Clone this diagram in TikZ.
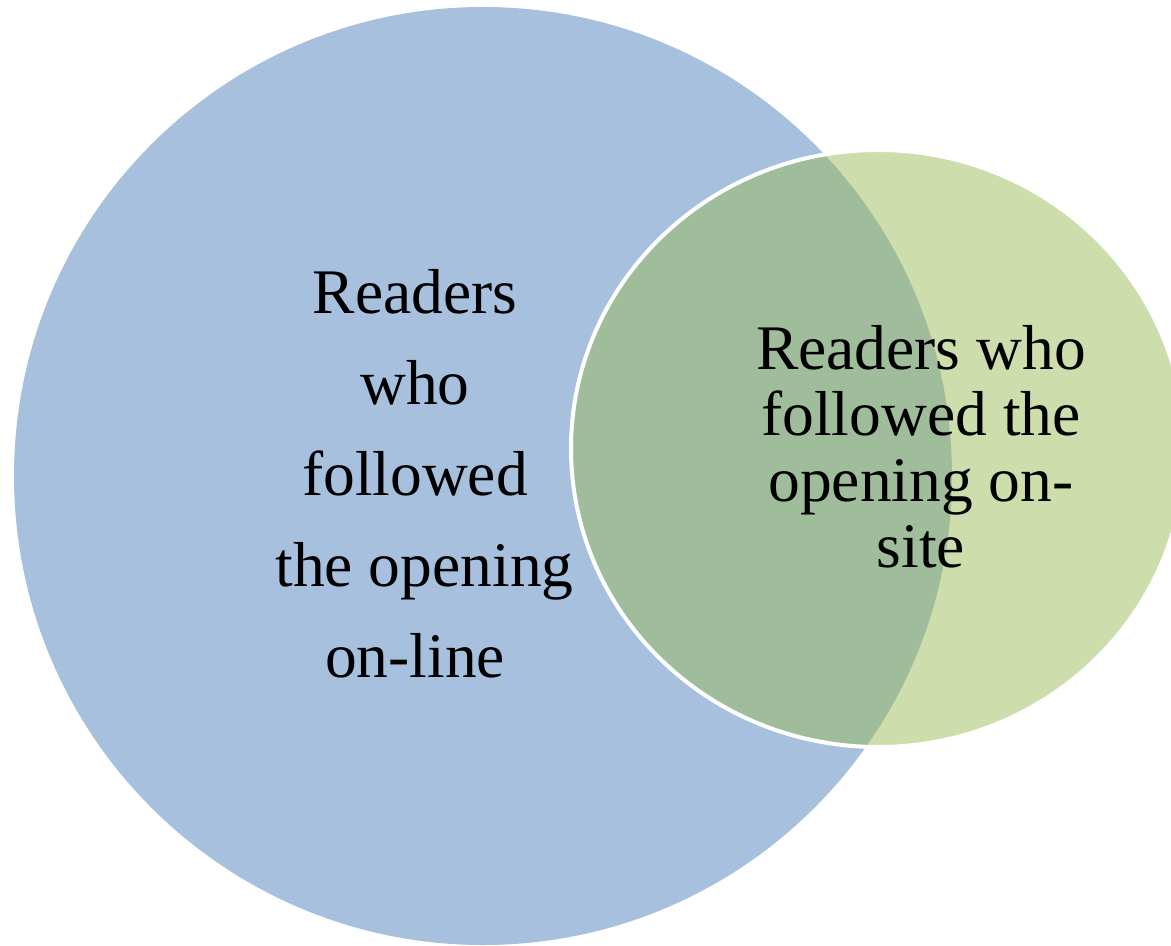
\documentclass[tikz,border=0pt]{standalone}
\usepackage{fontspec}
\setmainfont{Liberation Serif}
\usetikzlibrary{positioning}
\definecolor{onlineblue}{HTML}{4F81BD}
\definecolor{onsitegreen}{HTML}{9BBB59}
\begin{document}
\begin{tikzpicture}[x=0.5pt, y=-0.5pt,
            setA/.style={fill=onlineblue, fill opacity=0.5},
            setB/.style={fill=onsitegreen, fill opacity=0.5, draw=white, line width=2pt},
            setlabel/.style={align=center, text=black, inner sep=0pt,
                             font=\fontsize{31.75pt}{45.5pt}\selectfont}]
        \useasboundingbox (0,0) rectangle (1171,946);
        \clip (0,0) rectangle (1171,946);
        % the two sets
        \path[setA] (483,476) circle [radius=469];
        \path[setB] (878,448.5) ellipse [x radius=307, y radius=298.5];
        % labels
        \node[setlabel] (onlinetext) at (415,474) {Readers\\who\\followed\\\hspace*{0.3em}the opening\\on-line};
        \node[setlabel, font=\fontsize{31.75pt}{33pt}\selectfont] (onsitetext) at (921,446.5)
              {Readers who\\followed the\\opening on-\\site};
\end{tikzpicture}
\end{document}
